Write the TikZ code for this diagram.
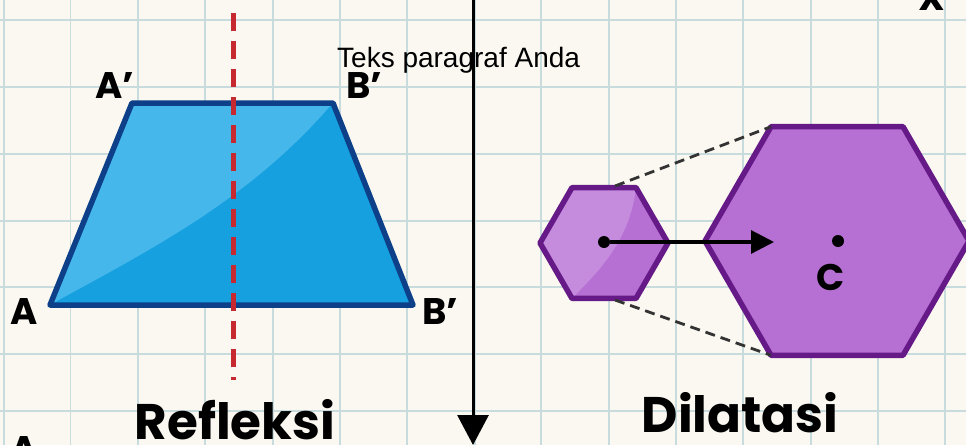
\documentclass[tikz,border=0pt]{standalone}
\usepackage{fontspec}
\setmainfont{Liberation Sans}
\newfontfamily\pop{Poppins}
\usetikzlibrary{arrows.meta}
\definecolor{paper}{HTML}{FAF8F0}
\definecolor{gridc}{HTML}{C8DBDD}
\definecolor{bluelight}{HTML}{46B7EA}
\definecolor{bluedark}{HTML}{16A0E0}
\definecolor{blueedge}{HTML}{0D4088}
\definecolor{reddash}{HTML}{C62A30}
\definecolor{purplefill}{HTML}{B66FD2}
\definecolor{purplelight}{HTML}{C58BDD}
\definecolor{purpleedge}{HTML}{661A88}
\definecolor{dashgray}{HTML}{333333}
\tikzset{
  gridline/.style={gridc, line width=1.6},
  ptlabel/.style={font=\pop\bfseries\fontsize{37}{37}\selectfont, text=black, inner sep=0, anchor=base west},
  bigtitle/.style={font=\pop\bfseries\fontsize{50}{50}\selectfont, text=black, inner sep=0, anchor=base},
  hexedge/.style={purpleedge, line width=5.5, line join=round},
  guide/.style={dashgray, line width=2.8, dash pattern=on 10pt off 6pt},
  dotc/.style={circle, fill=black, inner sep=0, minimum size=12},
}
\begin{document}
\begin{tikzpicture}[x=1pt,y=-1pt]
\useasboundingbox (0,0) rectangle (966,445);
\fill[paper] (0,0) rectangle (966,445);
\begin{scope}
\clip (0,0) rectangle (966,445);
% grid
\foreach \x in {4,70.5,138,205,273,340,407,475,541,609,676,743,811,878,945}
  \draw[gridline] (\x,0) -- (\x,445);
\foreach \y in {20,87,154,221,287,354,411}
  \draw[gridline] (0,\y) -- (966,\y);

% trapezoid
\coordinate (TL) at (132,103);
\coordinate (TR) at (333,103);
\coordinate (BR) at (413,305);
\coordinate (BL) at (50,305);
\fill[bluelight] (TL) -- (TR) -- (BR) -- (BL) -- cycle;
\fill[bluedark] (BL) .. controls (150,250) and (250,200) .. (TR) -- (BR) -- cycle;
\draw[blueedge, line width=5.5, line join=round] (TL) -- (TR) -- (BR) -- (BL) -- cycle;

% mirror line
\coordinate (M1) at (233,13);
\coordinate (M2) at (233,380);
\draw[reddash, line width=5, dash pattern=on 18pt off 10pt] (M1) -- (M2);

% labels
\node[ptlabel] (lA1) at (95,98) {A’};
\node[ptlabel] (lB1) at (346,98) {B’};
\node[ptlabel] (lA) at (10,324) {A};
\node[ptlabel] (lB) at (422,324) {B’};
\node[ptlabel] (lA2) at (10,462) {A};
\node[ptlabel] (lX) at (918,10) {X};

% paragraph text
\node[font=\fontsize{28}{28}\selectfont, inner sep=0, anchor=base west] (para) at (337,67) {Teks paragraf Anda};

% axis
\coordinate (ax1) at (473,-5);
\coordinate (ax2) at (473,445);
\draw[black, line width=3, -{Triangle[length=30,width=31]}] (ax1) -- (ax2);

% small hexagon
\coordinate (s0) at (668,243);
\coordinate (s1) at (636,187.6);
\coordinate (s2) at (572,187.6);
\coordinate (s3) at (540,243);
\coordinate (s4) at (572,298.4);
\coordinate (s5) at (636,298.4);
\fill[purplefill] (s0) -- (s1) -- (s2) -- (s3) -- (s4) -- (s5) -- cycle;
\fill[purplelight] (s1) -- (s2) -- (s3) -- (s4) .. controls (600,270) and (630,240) .. (s1) -- cycle;
\draw[hexedge] (s0) -- (s1) -- (s2) -- (s3) -- (s4) -- (s5) -- cycle;

% big hexagon
\coordinate (b0) at (969,241);
\coordinate (b1) at (903,126.7);
\coordinate (b2) at (771,126.7);
\coordinate (b3) at (705,241);
\coordinate (b4) at (771,355.3);
\coordinate (b5) at (903,355.3);
\fill[purplefill] (b0) -- (b1) -- (b2) -- (b3) -- (b4) -- (b5) -- cycle;
\draw[hexedge] (b0) -- (b1) -- (b2) -- (b3) -- (b4) -- (b5) -- cycle;

% guide lines
\coordinate (g1) at (615,186);
\coordinate (g2) at (615,300);
\draw[guide] (g1) -- (b2);
\draw[guide] (g2) -- (b4);

% center dots and arrow
\node[dotc] (d1) at (604,242) {};
\node[dotc] (d2) at (838,241) {};
\coordinate (tip) at (774,242);
\draw[black, line width=3.2, -{Triangle[length=23,width=23]}] (d1) -- (tip);
\node[ptlabel, anchor=base] (lC) at (831,290) {C};

% titles
\node[bigtitle] (t1) at (235,439) {Refleksi};
\node[bigtitle] (t2) at (740,432) {Dilatasi};
\end{scope}
\end{tikzpicture}
\end{document}
